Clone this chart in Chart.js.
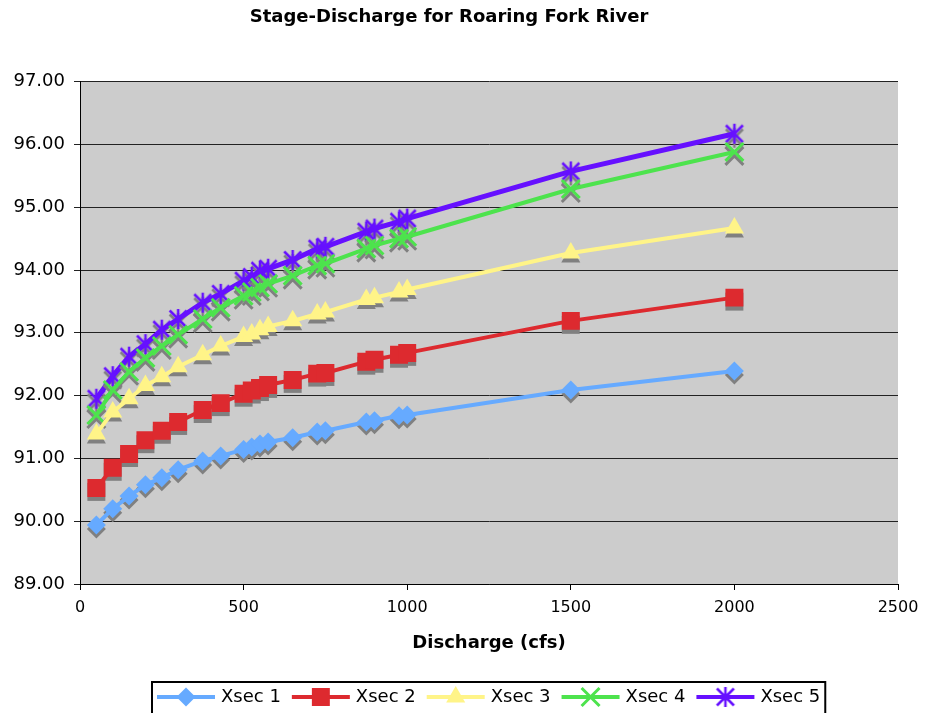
<!DOCTYPE html>
<html>
<head>
<meta charset="utf-8">
<title>Stage-Discharge for Roaring Fork River</title>
<script src="https://cdn.jsdelivr.net/npm/chart.js@4.4.0/dist/chart.umd.min.js"></script>
<style>
  html, body { margin: 0; padding: 0; background: #fff; }
  #wrap { width: 927px; height: 713px; }
</style>
</head>
<body>
<div id="wrap"><canvas id="stageChart" width="927" height="713"></canvas></div>
<script>
// discharge (cfs) and water surface elevation at each cross section
const discharge = [50, 100, 150, 200, 250, 300, 375, 430, 500, 525, 550, 575, 650, 725, 750, 875, 900, 975, 1000, 1500, 2000];
const xsec1 = [89.94, 90.20, 90.40, 90.58, 90.69, 90.82, 90.96, 91.04, 91.14, 91.18, 91.23, 91.26, 91.33, 91.42, 91.44, 91.58, 91.60, 91.68, 91.69, 92.09, 92.39];
const xsec2 = [90.53, 90.85, 91.07, 91.29, 91.44, 91.58, 91.77, 91.88, 92.03, 92.08, 92.12, 92.17, 92.25, 92.35, 92.36, 92.54, 92.57, 92.65, 92.68, 93.19, 93.56];
const xsec3 = [91.39, 91.74, 91.95, 92.16, 92.30, 92.46, 92.65, 92.79, 92.94, 92.98, 93.05, 93.10, 93.19, 93.30, 93.33, 93.53, 93.56, 93.65, 93.69, 94.27, 94.67];
const xsec4 = [91.69, 92.09, 92.38, 92.60, 92.79, 92.97, 93.22, 93.40, 93.59, 93.65, 93.72, 93.78, 93.91, 94.07, 94.10, 94.34, 94.39, 94.50, 94.53, 95.29, 95.88];
const xsec5 = [91.95, 92.31, 92.62, 92.82, 93.05, 93.22, 93.48, 93.62, 93.83, 93.89, 93.99, 94.02, 94.16, 94.34, 94.37, 94.61, 94.66, 94.77, 94.82, 95.57, 96.17];
const seriesNames = ['Xsec 1', 'Xsec 2', 'Xsec 3', 'Xsec 4', 'Xsec 5'];

const SHADOW = '#808080';
const FONT = "'DejaVu Sans', Verdana, sans-serif";

Chart.defaults.font.family = FONT;
Chart.defaults.color = '#000';

// Excel style asterisk: an X with a vertical stroke through it
function starMarker(color) {
  const c = document.createElement('canvas');
  c.width = c.height = 24;
  const g = c.getContext('2d');
  const m = 12, a = 8.5, v = 10;
  g.strokeStyle = color;
  g.lineWidth = 2.5;
  g.beginPath();
  g.moveTo(m - a, m - a); g.lineTo(m + a, m + a);
  g.moveTo(m + a, m - a); g.lineTo(m - a, m + a);
  g.moveTo(m, m - v); g.lineTo(m, m + v);
  g.stroke();
  return c;
}

const pts = ys => discharge.map((x, i) => ({ x, y: ys[i] }));

function series(label, ys, color, style, radius, bw, shadowStyle, width) {
  return {
    label,
    data: pts(ys),
    borderColor: color,
    backgroundColor: color,
    borderWidth: width || 4,
    tension: 0,
    pointStyle: style,
    pointRadius: radius,
    pointHoverRadius: radius,
    pointBorderWidth: bw,
    pointBackgroundColor: color,
    pointBorderColor: color,
    shadowStyle: shadowStyle || style
  };
}

const datasets = [
  series(seriesNames[0], xsec1, '#66AAFF', 'rectRot', 9.5, 0),
  series(seriesNames[1], xsec2, '#DD2A2F', 'rect', 12.7, 0),
  series(seriesNames[2], xsec3, '#FFF488', 'triangle', 11, 0),
  series(seriesNames[3], xsec4, '#4DE34D', 'crossRot', 12.7, 3),
  series(seriesNames[4], xsec5, '#6610FF', starMarker('#6610FF'), 12, 0, starMarker(SHADOW), 5)
];

// grey plot area
const plotBackground = {
  id: 'plotBackground',
  beforeDraw(chart) {
    const { ctx, chartArea: a } = chart;
    ctx.save();
    ctx.fillStyle = '#CCCCCC';
    ctx.fillRect(a.left, a.top, a.right - a.left, a.bottom - a.top);
    ctx.restore();
  }
};

// drop shadow under every marker, drawn before the series itself
const markerShadow = {
  id: 'markerShadow',
  beforeDatasetDraw(chart, args) {
    const ctx = chart.ctx;
    const ds = chart.data.datasets[args.index];
    ctx.save();
    ctx.fillStyle = SHADOW;
    ctx.strokeStyle = SHADOW;
    args.meta.data.forEach(pt => {
      const o = pt.options;
      ctx.lineWidth = o.borderWidth;
      Chart.helpers.drawPoint(ctx, {
        pointStyle: ds.shadowStyle,
        radius: o.radius,
        rotation: 0,
        borderWidth: o.borderWidth
      }, pt.x, pt.y + 4);
    });
    ctx.restore();
  }
};

// boxed legend with line + marker samples, centred under the plot
const boxLegend = {
  id: 'boxLegend',
  afterDraw(chart) {
    const { ctx, chartArea: a } = chart;
    const lineLen = 58, gap = 6, after = 11, pad = 5;
    ctx.save();
    ctx.font = '18px ' + FONT;
    const widths = chart.data.datasets.map(d => ctx.measureText(d.label).width);
    const total = widths.reduce((s, w) => s + lineLen + gap + w, 0) + after * (widths.length - 1) + pad * 2;
    const left = Math.round((a.left + a.right) / 2 - total / 2);
    const top = 682, cy = 697;
    ctx.strokeStyle = '#000';
    ctx.lineWidth = 2;
    ctx.strokeRect(left, top, total, 40);
    let x = left + pad;
    chart.data.datasets.forEach((d, i) => {
      ctx.strokeStyle = d.borderColor;
      ctx.lineWidth = 4;
      ctx.beginPath();
      ctx.moveTo(x, cy);
      ctx.lineTo(x + lineLen, cy);
      ctx.stroke();
      ctx.fillStyle = d.pointBackgroundColor;
      ctx.strokeStyle = d.pointBorderColor;
      ctx.lineWidth = d.pointBorderWidth;
      Chart.helpers.drawPoint(ctx, {
        pointStyle: d.pointStyle, radius: d.pointRadius, rotation: 0, borderWidth: d.pointBorderWidth
      }, x + lineLen / 2, cy);
      ctx.fillStyle = '#000';
      ctx.textBaseline = 'middle';
      ctx.textAlign = 'left';
      ctx.fillText(d.label, x + lineLen + gap, cy);
      x += lineLen + gap + widths[i] + after;
    });
    ctx.restore();
  }
};

new Chart(document.getElementById('stageChart'), {
  type: 'line',
  data: { datasets },
  plugins: [plotBackground, markerShadow, boxLegend],
  options: {
    responsive: false,
    animation: false,
    layout: { padding: { left: 0, right: 29, top: 1, bottom: 59 } },
    plugins: {
      legend: { display: false },
      tooltip: { enabled: false },
      title: {
        display: true,
        text: 'Stage-Discharge for Roaring Fork River',
        font: { size: 18, weight: 'bold', family: FONT },
        color: '#000',
        padding: { top: 6, bottom: 53 }
      }
    },
    scales: {
      x: {
        type: 'linear',
        min: 0,
        max: 2500,
        afterFit: s => { s.height = 70; },
        ticks: { stepSize: 500, padding: 8, font: { size: 16 }, color: '#000', callback: v => String(v) },
        grid: { drawOnChartArea: false, tickLength: 6, color: '#000' },
        border: { color: '#000', width: 1 },
        title: {
          display: true,
          text: 'Discharge (cfs)',
          font: { size: 18, weight: 'bold' },
          color: '#000',
          padding: { top: 14, bottom: 0 }
        }
      },
      y: {
        min: 89,
        max: 97,
        afterFit: s => { s.width = 80; },
        ticks: { stepSize: 1, padding: 9, font: { size: 18 }, color: '#000', callback: v => v.toFixed(2) },
        grid: { color: '#222', tickLength: 6, lineWidth: 1 },
        border: { color: '#000', width: 1 }
      }
    }
  }
});
</script>
</body>
</html>
